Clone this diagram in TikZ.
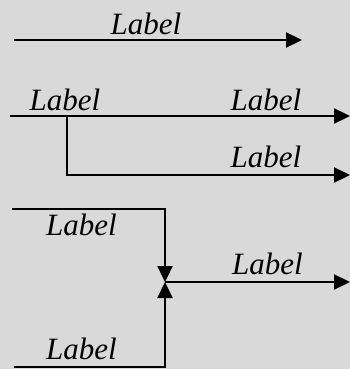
\documentclass[tikz,border=0pt]{standalone}
\usepackage{fontspec}
\setmainfont{Liberation Serif}
\usetikzlibrary{arrows.meta}
\definecolor{bg}{HTML}{D9D9D9}
\begin{document}
\begin{tikzpicture}[x=1pt,y=-1pt,
  wire/.style={line width=2.3pt},
  flow/.style={wire,-{Triangle[length=16pt,width=15pt]}},
  lbl/.style={font=\fontsize{31}{31}\selectfont\itshape, anchor=base, inner sep=0pt}]
\fill[bg] (0,0) rectangle (350,369);
\useasboundingbox (0,0) rectangle (350,369);

% plain connector
\coordinate (a0) at (14,40);
\coordinate (a1) at (302,40);
\draw[flow] (a0) -- (a1);
\node[lbl] (la) at (146,35) {Label};

% split: one input, two outputs
\coordinate (b0) at (10,116);
\coordinate (b1) at (350,116);
\coordinate (bs) at (67,116);
\coordinate (b2) at (350,175);
\draw[flow] (b0) -- (b1);
\draw[flow] (bs) |- (b2);
\node[lbl] (lb0) at (65,110) {Label};
\node[lbl] (lb1) at (266,110) {Label};
\node[lbl] (lb2) at (266,167) {Label};

% merge: two inputs meet at a junction
\coordinate (c0) at (12,209);
\coordinate (c1) at (14,367);
\coordinate (cj) at (165,282);
\coordinate (c2) at (350,282);
\draw[flow] (c0) -| (cj);
\draw[flow] (c1) -| (cj);
\draw[flow] (cj) -- (c2);
\node[lbl] (lc0) at (81.5,235) {Label};
\node[lbl] (lc1) at (81.5,359) {Label};
\node[lbl] (lc2) at (267.5,274) {Label};
\end{tikzpicture}
\end{document}
